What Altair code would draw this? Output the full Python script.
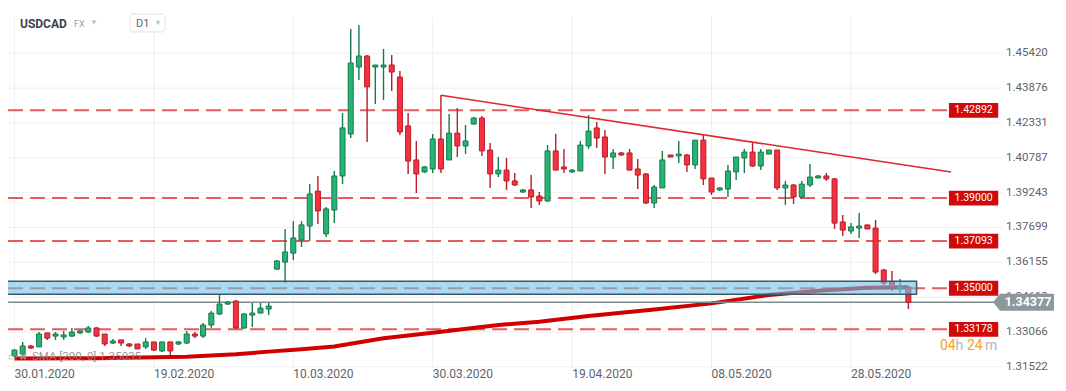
import altair as alt
import pandas as pd

# ---------------- data ----------------
opens = [1.3200, 1.3209, 1.3244, 1.3240, 1.3302, 1.3288, 1.3284, 1.3288, 1.3302, 1.3306,
         1.3324, 1.3297, 1.3257, 1.3271, 1.3253, 1.3253, 1.3240, 1.3262, 1.3222, 1.3262,
         1.3253, 1.3257, 1.3297, 1.3288, 1.3337, 1.3386, 1.3430, 1.3443, 1.3324, 1.3381,
         1.3390, 1.3408, 1.3585, 1.3616, 1.3656, 1.3714, 1.3776, 1.3931, 1.3741, 1.3847,
         1.3998, 1.4184, 1.4481, 1.4530, 1.4481, 1.4481, 1.4490, 1.4437, 1.4220, 1.4069,
         1.4016, 1.4029, 1.4162, 1.4069, 1.4188, 1.4131, 1.4228, 1.4255, 1.4113, 1.4007,
         1.4024, 1.3976, 1.3927, 1.3936, 1.3909, 1.3887, 1.4109, 1.4038, 1.4016, 1.4020,
         1.4131, 1.4211, 1.4171, 1.4082, 1.4100, 1.4100, 1.4029, 1.4007, 1.3878, 1.3945,
         1.4091, 1.4087, 1.4091, 1.4047, 1.4157, 1.3989, 1.3936, 1.3940, 1.4016, 1.4078,
         1.4104, 1.4042, 1.4095, 1.4113, 1.3945, 1.3958, 1.3905, 1.3958, 1.3989, 1.3998,
         1.3985, 1.3794, 1.3754, 1.3767, 1.3781, 1.3767, 1.3581, 1.3528, 1.3497, 1.3506]
highs = [1.3231, 1.3262, 1.3248, 1.3306, 1.3302, 1.3306, 1.3311, 1.3324, 1.3315, 1.3333,
         1.3328, 1.3297, 1.3275, 1.3271, 1.3257, 1.3253, 1.3279, 1.3262, 1.3262, 1.3262,
         1.3266, 1.3311, 1.3306, 1.3346, 1.3399, 1.3470, 1.3443, 1.3448, 1.3390, 1.3435,
         1.3435, 1.3435, 1.3625, 1.3763, 1.3798, 1.3798, 1.3962, 1.3998, 1.3860, 1.4020,
         1.4277, 1.4650, 1.4667, 1.4534, 1.4490, 1.4561, 1.4534, 1.4463, 1.4277, 1.4153,
         1.4042, 1.4184, 1.4357, 1.4273, 1.4299, 1.4224, 1.4260, 1.4264, 1.4144, 1.4082,
         1.4078, 1.4011, 1.3940, 1.4002, 1.3927, 1.4135, 1.4184, 1.4118, 1.4029, 1.4153,
         1.4268, 1.4237, 1.4202, 1.4118, 1.4104, 1.4118, 1.4073, 1.4011, 1.3958, 1.4109,
         1.4091, 1.4153, 1.4095, 1.4157, 1.4180, 1.3989, 1.3949, 1.4047, 1.4082, 1.4118,
         1.4144, 1.4118, 1.4113, 1.4113, 1.3976, 1.3962, 1.3976, 1.4051, 1.4002, 1.4011,
         1.3989, 1.3825, 1.3789, 1.3834, 1.3781, 1.3803, 1.3585, 1.3577, 1.3541, 1.3506]
lows = [1.3195, 1.3195, 1.3231, 1.3240, 1.3271, 1.3271, 1.3271, 1.3284, 1.3297, 1.3302,
        1.3284, 1.3244, 1.3253, 1.3244, 1.3240, 1.3231, 1.3231, 1.3222, 1.3217, 1.3204,
        1.3248, 1.3253, 1.3279, 1.3279, 1.3324, 1.3381, 1.3426, 1.3319, 1.3319, 1.3328,
        1.3390, 1.3381, 1.3581, 1.3523, 1.3625, 1.3683, 1.3710, 1.3785, 1.3727, 1.3789,
        1.3962, 1.4166, 1.4424, 1.4149, 1.4317, 1.4335, 1.4375, 1.4180, 1.4007, 1.3922,
        1.4011, 1.4011, 1.4011, 1.4069, 1.4082, 1.4095, 1.4228, 1.4087, 1.3945, 1.3993,
        1.3936, 1.3954, 1.3922, 1.3856, 1.3869, 1.3883, 1.4024, 1.4011, 1.4011, 1.4020,
        1.4118, 1.4122, 1.4007, 1.4029, 1.4087, 1.4024, 1.3940, 1.3874, 1.3856, 1.3945,
        1.4082, 1.4056, 1.4016, 1.4029, 1.3958, 1.3914, 1.3931, 1.3905, 1.3980, 1.4011,
        1.4038, 1.4024, 1.4095, 1.3936, 1.3869, 1.3874, 1.3896, 1.3949, 1.3989, 1.3976,
        1.3763, 1.3732, 1.3741, 1.3723, 1.3763, 1.3563, 1.3492, 1.3488, 1.3479, 1.3408]
closes = [1.3226, 1.3244, 1.3235, 1.3297, 1.3279, 1.3297, 1.3293, 1.3306, 1.3311, 1.3324,
          1.3288, 1.3253, 1.3266, 1.3257, 1.3244, 1.3231, 1.3262, 1.3226, 1.3262, 1.3222,
          1.3262, 1.3297, 1.3288, 1.3337, 1.3390, 1.3430, 1.3439, 1.3324, 1.3386, 1.3390,
          1.3412, 1.3421, 1.3621, 1.3661, 1.3723, 1.3781, 1.3918, 1.3843, 1.3852, 1.3998,
          1.4211, 1.4499, 1.4530, 1.4393, 1.4490, 1.4490, 1.4459, 1.4193, 1.4064, 1.4007,
          1.4038, 1.4162, 1.4029, 1.4188, 1.4131, 1.4153, 1.4255, 1.4109, 1.4007, 1.4024,
          1.3976, 1.3958, 1.3936, 1.3905, 1.3887, 1.4109, 1.4024, 1.4029, 1.4024, 1.4135,
          1.4197, 1.4166, 1.4082, 1.4100, 1.4091, 1.4024, 1.4002, 1.3878, 1.3949, 1.4069,
          1.4082, 1.4095, 1.4047, 1.4157, 1.3985, 1.3927, 1.3945, 1.4020, 1.4082, 1.4104,
          1.4042, 1.4104, 1.4113, 1.3945, 1.3958, 1.3905, 1.3962, 1.3993, 1.3998, 1.3985,
          1.3789, 1.3758, 1.3772, 1.3776, 1.3763, 1.3572, 1.3523, 1.3506, 1.3506, 1.34377]

sma_index = [0, 10, 21, 27, 31, 35, 39, 45, 51, 59, 64, 70, 78, 85, 92, 98, 104, 109]
sma_values = [1.3188, 1.3190, 1.3196, 1.3207, 1.3219, 1.3230, 1.3242, 1.3278, 1.3303,
              1.3337, 1.3352, 1.3377, 1.3406, 1.3433, 1.3470, 1.3489, 1.3502, 1.3505]

level_values = [1.42892, 1.39000, 1.37093, 1.35000, 1.33178]
level_labels = ["1.42892", "1.39000", "1.37093", "1.35000", "1.33178"]

zone_low, zone_high = 1.3473, 1.3531
zone_start, zone_end = -1.0, 110.0

trend_index = [52, 114.2]
trend_values = [1.43557, 1.40156]

last_price = 1.34377
last_label = "1.34377"

y_ticks = [1.45420, 1.43876, 1.42331, 1.40787, 1.39243, 1.37699, 1.36155, 1.34610, 1.33066, 1.31522]
x_tick_index = [0, 17, 34, 51, 68, 85, 102]
x_tick_labels = ["30.01.2020", "19.02.2020", "10.03.2020", "30.03.2020",
                 "19.04.2020", "08.05.2020", "28.05.2020"]

symbol_name = "USDCAD"
market_name = "FX"
interval_name = "D1"
sma_text = "SMA [200, 0] 1.35035"
timer_parts = ["04", "h", "24", "m"]

# ---------------- tables ----------------
candles = pd.DataFrame({
    "i": list(range(len(opens))),
    "open": opens, "high": highs, "low": lows, "close": closes,
})
candles["dir"] = ["up" if c >= o else "down" for o, c in zip(opens, closes)]
sma_df = pd.DataFrame({"i": sma_index, "v": sma_values})
levels_df = pd.DataFrame({"price": level_values, "label": level_labels})
zone_df = pd.DataFrame({"x0": [zone_start], "x1": [zone_end], "lo": [zone_low], "hi": [zone_high]})
trend_df = pd.DataFrame({"i": trend_index, "v": trend_values})
last_df = pd.DataFrame({"price": [last_price], "label": [last_label]})
yt_df = pd.DataFrame({"v": y_ticks, "label": [f"{v:.5f}" for v in y_ticks]})
xt_df = pd.DataFrame({"i": x_tick_index, "label": x_tick_labels})

FONT = "Roboto"
W, H = 995, 351
XS = alt.Scale(domain=[-0.181, 119.93], nice=False, zero=False)
YS = alt.Scale(domain=[1.314641, 1.470295], nice=False, zero=False)
GRID = "#efefef"

fill_scale = alt.Scale(domain=["up", "down"], range=["#27b376", "#f5303f"])
stroke_scale = alt.Scale(domain=["up", "down"], range=["#167a4a", "#b81c28"])

# grid + axis labels drawn through the chart's own scales
y_grid = alt.Chart(yt_df).mark_rule(color=GRID, strokeWidth=1).encode(
    y=alt.Y("v:Q", scale=YS, axis=None), x=alt.value(0), x2=alt.value(W))
y_labels = alt.Chart(yt_df).mark_text(align="left", baseline="middle", fontSize=11.5,
                                      color="#5f6368", font=FONT).encode(
    y=alt.Y("v:Q", scale=YS, axis=None), x=alt.value(W + 3), text="label:N")
x_grid = alt.Chart(xt_df).mark_rule(color=GRID, strokeWidth=1).encode(
    x=alt.X("i:Q", scale=XS, axis=None), y=alt.value(0), y2=alt.value(H))
x_labels = alt.Chart(xt_df).mark_text(align="left", baseline="top", fontSize=12,
                                      color="#5f6368", font=FONT).encode(
    x=alt.X("i:Q", scale=XS, axis=None), y=alt.value(H + 1), text="label:N")

levels = alt.Chart(levels_df).mark_rule(strokeDash=[15, 7], strokeWidth=2, color="#dd3333",
                                        opacity=0.8).encode(
    y=alt.Y("price:Q", scale=YS, axis=None), x=alt.value(0), x2=alt.value(939))

sma = alt.Chart(sma_df).mark_line(strokeWidth=4, color="#d10000").encode(
    x=alt.X("i:Q", scale=XS, axis=None), y=alt.Y("v:Q", scale=YS, axis=None))

last_line = alt.Chart(last_df).mark_rule(strokeWidth=1.5, color="#7d8b91").encode(
    y=alt.Y("price:Q", scale=YS, axis=None), x=alt.value(0), x2=alt.value(986))

wicks = alt.Chart(candles).mark_rule(strokeWidth=1.4).encode(
    x=alt.X("i:Q", scale=XS, axis=None),
    y=alt.Y("low:Q", scale=YS, axis=None), y2="high:Q",
    stroke=alt.Stroke("dir:N", scale=stroke_scale, legend=None))

bodies = alt.Chart(candles).mark_bar(size=5, strokeWidth=1).encode(
    x=alt.X("i:Q", scale=XS, axis=None),
    y=alt.Y("open:Q", scale=YS, axis=None), y2="close:Q",
    fill=alt.Fill("dir:N", scale=fill_scale, legend=None),
    stroke=alt.Stroke("dir:N", scale=stroke_scale, legend=None))

zone = alt.Chart(zone_df).mark_rect(fill="#6ec1e9", fillOpacity=0.6, stroke="#3d5866",
                                    strokeWidth=1.5).encode(
    x=alt.X("x0:Q", scale=XS, axis=None), x2="x1:Q",
    y=alt.Y("lo:Q", scale=YS, axis=None), y2="hi:Q")

trend = alt.Chart(trend_df).mark_line(strokeWidth=1.5, color="#e0262e").encode(
    x=alt.X("i:Q", scale=XS, axis=None), y=alt.Y("v:Q", scale=YS, axis=None))

box_path = "M-2.9,-0.87L2.9,-0.87L2.9,0.87L-2.9,0.87Z"
level_boxes = alt.Chart(levels_df).mark_point(shape=box_path, size=289, filled=True,
                                              color="#cf0a0a", opacity=1, strokeWidth=0).encode(
    y=alt.Y("price:Q", scale=YS, axis=None), x=alt.value(965.6))
level_text = alt.Chart(levels_df).mark_text(color="white", fontSize=10.5, font=FONT).encode(
    y=alt.Y("price:Q", scale=YS, axis=None), x=alt.value(965.6), text="label:N")

tag_path = "M-0.82,0L0,-1L6.35,-1L6.35,1L0,1Z"
tag = alt.Chart(last_df).mark_point(shape=tag_path, size=289, filled=True, color="#8d989c",
                                    opacity=1, strokeWidth=0).encode(
    y=alt.Y("price:Q", scale=YS, axis=None), x=alt.value(992))
tag_text = alt.Chart(last_df).mark_text(color="white", fontSize=12.5, fontWeight="bold",
                                        font=FONT).encode(
    y=alt.Y("price:Q", scale=YS, axis=None), x=alt.value(1020), text="label:N")


def txt(s, x, y, **kw):
    return alt.Chart(pd.DataFrame({"t": [s]})).mark_text(font=FONT, **kw).encode(
        x=alt.value(x), y=alt.value(y), text="t:N")


def tri(x, y):
    return alt.Chart(pd.DataFrame({"a": [0]})).mark_point(
        shape="triangle-down", size=28, filled=True, color="#c4c7ca", opacity=1,
        strokeWidth=0).encode(x=alt.value(x), y=alt.value(y))


d1_box = alt.Chart(pd.DataFrame({"a": [0]})).mark_rect(
    fill="white", stroke="#e3e3e3", strokeWidth=1, cornerRadius=3).encode(
    x=alt.value(122), x2=alt.value(157), y=alt.value(-3), y2=alt.value(15))

header = [
    txt(symbol_name, 12, 6.5, align="left", baseline="middle", fontSize=12, fontWeight="bold",
        color="#3c4248"),
    txt(market_name, 66, 7, align="left", baseline="middle", fontSize=9, color="#9aa0a6"),
    tri(86, 5.5),
    d1_box,
    txt(interval_name, 128, 6.5, align="left", baseline="middle", fontSize=11, color="#5f6368"),
    tri(150, 6),
]

sma_label = [
    txt("▭ ✖", 0, 340, align="left", baseline="middle", fontSize=10, color="#9a9a9a",
        opacity=0.85),
    txt(sma_text, 24, 340, align="left", baseline="middle", fontSize=11.5, color="#8a8a8a",
        opacity=0.85),
]

timer_cols = ["#f7a21b", "#b5b5b5", "#f7a21b", "#b5b5b5"]
timer_x = [932, 947.5, 959, 977]
timer = [txt(p, x, 328.7, align="left", baseline="middle", fontSize=14, color=c)
         for p, x, c in zip(timer_parts, timer_x, timer_cols)]

chart = alt.layer(
    y_grid, x_grid, y_labels, x_labels,
    levels, sma, last_line, wicks, bodies, zone, trend,
    level_boxes, level_text, tag, tag_text, *header, *sma_label, *timer,
).properties(
    width=W, height=H,
    autosize=alt.AutoSizeParams(type="none"),
    padding={"left": 0, "top": 9, "right": 55, "bottom": 14},
    background="white",
).configure_view(strokeWidth=0)

chart.save("out.html", embed_options={"renderer": "svg", "actions": False})
